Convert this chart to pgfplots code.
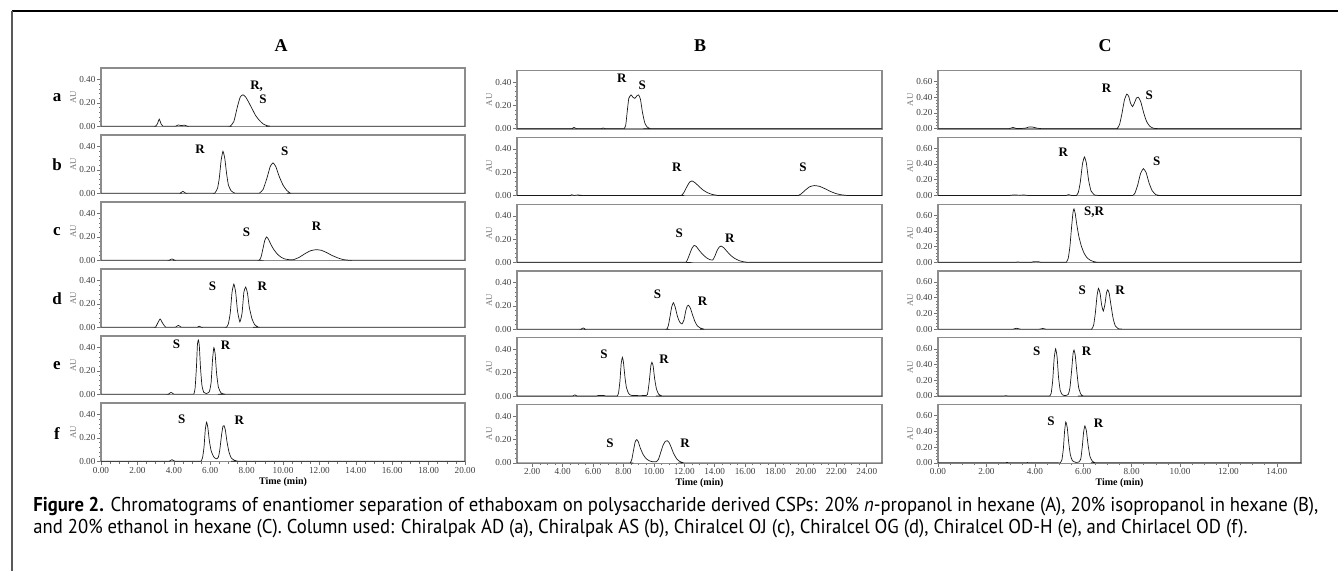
\documentclass[border=0pt]{standalone}
\usepackage{fontspec}
\setmainfont{Liberation Serif}
\newfontfamily\capfont{PT Sans}
\usepackage{graphicx}
\usepackage{pgfplots}
\pgfplotsset{compat=1.18}

\tikzset{pk/.style={font=\bfseries\fontsize{6.5}{7}\selectfont, inner sep=0pt}}
\pgfplotsset{
  panel/.style={
    scale only axis, height=29.25pt, anchor=north west,
    axis line style={black!45, line width=0.55pt},
    tick style={black!55, line width=0.3pt},
    tick align=outside, major tick length=1.8pt, minor tick length=1pt,
    xtick=\empty, ytick={0,0.2,0.4}, minor y tick num=4,
    xtick pos=bottom, ytick pos=left,
    ticklabel style={font=\fontsize{4.6}{5}\selectfont, text=black!75, inner sep=0.8pt},
    yticklabel style={/pgf/number format/.cd, fixed, fixed zerofill, precision=2},
    /pgf/number format/assume math mode=true,
    ylabel={AU}, ylabel style={font=\fontsize{4.4}{5}\selectfont, text=black!55, inner sep=0.5pt},
    no markers,
    every axis plot post/.append style={black!90, line width=0.35pt, smooth, tension=0.3, mark=none},
  },
  colA/.style={panel, width=182pt, xmin=0, xmax=20, ymin=-0.003, ymax=0.5},
  colB/.style={panel, width=182.5pt, xmin=1, xmax=25, ymin=-0.003, ymax=0.5},
  colC/.style={panel, width=181.5pt, xmin=0, xmax=15, ymin=-0.005, ymax=0.74, ytick={0,0.2,0.4,0.6}},
  bottomrow/.style={minor x tick num=3,
    xticklabel style={/pgf/number format/.cd, fixed, fixed zerofill, precision=2},
    xlabel={Time (min)}, xlabel style={font=\bfseries\fontsize{5}{6}\selectfont, inner sep=1pt}},
}

\newcommand\lineone{\textbf{Figure 2.} Chromatograms of enantiomer separation of ethaboxam on polysaccharide derived CSPs: 20\% \textit{n}-propanol in hexane (A), 20\% isopropanol in hexane (B),}
\newcommand\linetwo{and 20\% ethanol in hexane (C). Column used: Chiralpak AD (a), Chiralpak AS (b), Chiralcel OJ (c), Chiralcel OG (d), Chiralcel OD-H (e), and Chirlacel OD (f).}
\newcommand\capsize{\fontsize{10}{11}\selectfont}
\newlength\capw

\begin{document}%
\settowidth\capw{\capfont\capsize\lineone}%
\pgfmathsetmacro\capsx{642.5pt/\capw}%
\begin{tikzpicture}
\path[use as bounding box] (0pt,0pt) rectangle (669pt,-285.5pt);
\begin{scope}[x=0.5pt,y=-0.5pt]
\draw[black, line width=1.3pt] (12,11) -- (1338,11);
\draw[black!65, line width=1pt] (12,11) -- (12,571);
\foreach \t/\x in {A/281,B/700,C/1105}
  \node[font=\bfseries\fontsize{9}{10}\selectfont] at (\x,46) {\t};
\foreach \r/\y in {a/98,b/165,c/232,d/299,e/366,f/434}
  \node[font=\bfseries\fontsize{8.5}{9}\selectfont] at (57,\y) {\r};
\node[anchor=west, inner sep=0] at (33,507) {\scalebox{\capsx}[1]{\capfont\capsize\lineone}};
\node[anchor=west, inner sep=0] at (33,529) {\scalebox{\capsx}[1]{\capfont\capsize\linetwo}};
\end{scope}

% ---------------- column A ----------------
\begin{axis}[colA, at={(50.5pt,-34pt)}]
\addplot coordinates {(0,0)(2.9,0)(3.0,0)(3.1,0.02)(3.2,0.06)(3.3,0.02)(3.4,0)(3.5,0)(4.0,0)(4.1,0)(4.25,0.01)(4.4,0.005)(4.6,0.008)(4.75,0)(4.85,0)(7.0,0)(7.1,0)(7.3,0.04)(7.5,0.17)(7.65,0.25)(7.8,0.27)(7.95,0.25)(8.1,0.21)(8.3,0.15)(8.5,0.09)(8.7,0.05)(8.9,0.02)(9.1,0.005)(9.3,0)(9.5,0)(20,0)};
\node[pk] at (axis cs:8.55,0.34) {R,};
\node[pk] at (axis cs:8.9,0.23) {S};
\end{axis}
\begin{axis}[colA, at={(50.5pt,-67.5pt)}]
\addplot coordinates {(0,0)(4.25,0)(4.35,0)(4.5,0.015)(4.65,0)(4.75,0)(6.15,0)(6.25,0)(6.4,0.04)(6.5,0.13)(6.6,0.28)(6.7,0.36)(6.8,0.3)(6.9,0.17)(7.0,0.07)(7.15,0.02)(7.35,0)(7.5,0)(8.6,0)(8.7,0)(8.9,0.03)(9.1,0.12)(9.3,0.23)(9.45,0.26)(9.6,0.23)(9.8,0.14)(10.0,0.07)(10.2,0.025)(10.4,0)(10.6,0)(20,0)};
\node[pk] at (axis cs:5.44,0.38) {R};
\node[pk] at (axis cs:10.1,0.36) {S};
\end{axis}
\begin{axis}[colA, at={(50.5pt,-101pt)}]
\addplot coordinates {(0,0)(3.65,0)(3.75,0)(3.9,0.01)(4.05,0)(4.15,0)(8.6,0)(8.7,0)(8.8,0.03)(8.9,0.1)(9.0,0.17)(9.1,0.2)(9.2,0.18)(9.35,0.13)(9.5,0.09)(9.7,0.05)(9.9,0.025)(10.1,0.01)(10.4,0.003)(10.6,0.005)(10.9,0.025)(11.2,0.055)(11.5,0.08)(11.8,0.09)(12.1,0.085)(12.4,0.065)(12.7,0.04)(13.0,0.02)(13.3,0.005)(13.6,0)(13.9,0)(20,0)};
\node[pk] at (axis cs:8.0,0.24) {S};
\node[pk] at (axis cs:11.85,0.29) {R};
\end{axis}
\begin{axis}[colA, at={(50.5pt,-134.5pt)}]
\addplot coordinates {(0,0)(2.9,0)(3.0,0)(3.1,0.03)(3.25,0.07)(3.4,0.03)(3.55,0)(3.65,0)(4.0,0)(4.1,0)(4.25,0.015)(4.4,0)(4.5,0)(5.2,0)(5.3,0)(5.4,0.008)(5.5,0)(5.6,0)(6.8,0)(6.9,0)(7.0,0.03)(7.1,0.12)(7.2,0.3)(7.3,0.37)(7.4,0.3)(7.5,0.14)(7.63,0.045)(7.75,0.12)(7.85,0.3)(7.95,0.345)(8.05,0.29)(8.15,0.17)(8.3,0.07)(8.45,0.02)(8.65,0)(8.8,0)(20,0)};
\node[pk] at (axis cs:6.13,0.355) {S};
\node[pk] at (axis cs:8.86,0.355) {R};
\end{axis}
\begin{axis}[colA, at={(50.5pt,-168pt)}]
\addplot coordinates {(0,0)(3.6,0)(3.7,0)(3.85,0.015)(4.0,0)(4.1,0)(5.0,0)(5.1,0)(5.17,0.05)(5.24,0.22)(5.3,0.43)(5.35,0.465)(5.4,0.42)(5.47,0.22)(5.55,0.07)(5.65,0.015)(5.78,0.005)(5.95,0.02)(6.05,0.1)(6.13,0.3)(6.2,0.4)(6.27,0.35)(6.35,0.18)(6.45,0.06)(6.6,0.01)(6.8,0)(6.95,0)(20,0)};
\node[pk] at (axis cs:4.15,0.43) {S};
\node[pk] at (axis cs:6.85,0.42) {R};
\end{axis}
\begin{axis}[colA, bottomrow, at={(50.5pt,-201.5pt)}, xtick={0,2,...,20}]
\addplot coordinates {(0,0)(3.65,0)(3.75,0)(3.9,0.012)(4.05,0)(4.15,0)(5.4,0)(5.5,0)(5.58,0.03)(5.66,0.12)(5.73,0.27)(5.8,0.335)(5.87,0.29)(5.95,0.18)(6.05,0.09)(6.2,0.035)(6.35,0.02)(6.45,0.035)(6.53,0.1)(6.62,0.22)(6.7,0.3)(6.76,0.305)(6.83,0.27)(6.92,0.17)(7.03,0.08)(7.15,0.03)(7.3,0.01)(7.5,0)(7.65,0)(20,0)};
\node[pk] at (axis cs:4.43,0.36) {S};
\node[pk] at (axis cs:7.6,0.35) {R};
\end{axis}

% ---------------- column B ----------------
\begin{axis}[colB, at={(258.5pt,-35.25pt)}]
\addplot coordinates {(1,0)(4.5,0)(4.6,0)(4.75,0.01)(4.9,0)(5.0,0)(6.45,0)(6.55,0)(6.66,0.005)(6.8,0)(6.9,0)(7.95,0)(8.05,0)(8.15,0.03)(8.25,0.15)(8.35,0.26)(8.5,0.29)(8.62,0.27)(8.75,0.26)(8.9,0.285)(9.0,0.29)(9.12,0.25)(9.25,0.14)(9.4,0.05)(9.55,0.015)(9.75,0)(9.9,0)(25,0)};
\node[pk] at (axis cs:7.89,0.43) {R};
\node[pk] at (axis cs:9.24,0.37) {S};
\end{axis}
\begin{axis}[colB, at={(258.5pt,-68.65pt)}]
\addplot coordinates {(1,0)(4.4,0)(4.5,0)(4.6,0.006)(4.75,0)(5.0,0.004)(5.3,0)(5.4,0)(11.7,0)(11.8,0)(11.95,0.02)(12.15,0.07)(12.35,0.115)(12.5,0.125)(12.7,0.11)(12.95,0.08)(13.2,0.05)(13.5,0.025)(13.8,0.01)(14.2,0)(14.4,0)(19.3,0)(19.5,0)(19.7,0.015)(19.95,0.045)(20.25,0.075)(20.55,0.085)(20.9,0.078)(21.25,0.058)(21.6,0.035)(21.95,0.017)(22.3,0.006)(22.7,0)(22.9,0)(25,0)};
\node[pk] at (axis cs:11.5,0.24) {R};
\node[pk] at (axis cs:19.8,0.24) {S};
\end{axis}
\begin{axis}[colB, at={(258.5pt,-102.1pt)}]
\addplot coordinates {(1,0)(12.0,0)(12.1,0)(12.2,0.02)(12.35,0.07)(12.5,0.12)(12.65,0.145)(12.8,0.135)(13.0,0.1)(13.2,0.07)(13.45,0.04)(13.7,0.022)(13.87,0.02)(14.0,0.05)(14.15,0.1)(14.3,0.132)(14.42,0.14)(14.6,0.125)(14.8,0.095)(15.05,0.06)(15.3,0.035)(15.6,0.015)(15.9,0.005)(16.2,0)(16.4,0)(25,0)};
\node[pk] at (axis cs:11.66,0.25) {S};
\node[pk] at (axis cs:15.0,0.21) {R};
\end{axis}
\begin{axis}[colB, at={(258.5pt,-135.5pt)}]
\addplot coordinates {(1,0)(5.1,0)(5.2,0)(5.36,0.01)(5.5,0)(5.6,0)(10.75,0)(10.85,0)(10.95,0.03)(11.05,0.1)(11.17,0.19)(11.28,0.228)(11.4,0.19)(11.55,0.11)(11.7,0.06)(11.85,0.045)(11.98,0.08)(12.1,0.16)(12.2,0.2)(12.28,0.205)(12.4,0.18)(12.55,0.12)(12.7,0.065)(12.85,0.03)(13.05,0.01)(13.3,0)(13.5,0)(25,0)};
\node[pk] at (axis cs:10.23,0.30) {S};
\node[pk] at (axis cs:13.2,0.24) {R};
\end{axis}
\begin{axis}[colB, at={(258.5pt,-168.95pt)}]
\addplot coordinates {(1,0)(4.55,0)(4.65,0)(4.8,0.01)(4.95,0)(5.05,0)(6.1,0)(6.2,0)(6.35,0.005)(6.7,0.005)(6.85,0)(6.95,0)(7.5,0)(7.6,0)(7.68,0.03)(7.77,0.13)(7.85,0.28)(7.93,0.333)(8.0,0.29)(8.1,0.16)(8.2,0.07)(8.35,0.02)(8.55,0.005)(9.5,0.005)(9.6,0.03)(9.7,0.13)(9.8,0.26)(9.87,0.29)(9.95,0.26)(10.05,0.15)(10.17,0.06)(10.32,0.015)(10.55,0)(10.7,0)(25,0)};
\node[pk] at (axis cs:6.72,0.36) {S};
\node[pk] at (axis cs:10.67,0.32) {R};
\end{axis}
\begin{axis}[colB, bottomrow, at={(258.5pt,-202.35pt)}, xtick={2,4,...,24}]
\addplot coordinates {(1,0)(8.35,0)(8.45,0)(8.55,0.03)(8.65,0.1)(8.77,0.18)(8.87,0.2)(8.98,0.18)(9.1,0.13)(9.3,0.07)(9.5,0.035)(9.7,0.018)(9.9,0.01)(10.15,0.01)(10.3,0.03)(10.45,0.09)(10.6,0.15)(10.75,0.185)(10.88,0.19)(11.0,0.175)(11.15,0.13)(11.3,0.08)(11.5,0.035)(11.7,0.012)(11.95,0)(12.1,0)(25,0)};
\node[pk] at (axis cs:7.12,0.17) {S};
\node[pk] at (axis cs:12.05,0.17) {R};
\end{axis}

% ---------------- column C ----------------
\begin{axis}[colC, at={(469pt,-35.25pt)}]
\addplot coordinates {(0,0)(2.85,0)(2.95,0)(3.1,0.015)(3.25,0)(3.6,0.005)(3.75,0.02)(3.9,0.02)(4.1,0.005)(4.25,0)(4.35,0)(7.3,0)(7.4,0)(7.5,0.05)(7.6,0.19)(7.7,0.36)(7.8,0.44)(7.88,0.41)(7.96,0.32)(8.04,0.28)(8.12,0.33)(8.2,0.39)(8.28,0.40)(8.38,0.34)(8.5,0.2)(8.62,0.09)(8.75,0.03)(8.9,0.005)(9.05,0)(9.2,0)(15,0)};
\node[pk] at (axis cs:6.97,0.515) {R};
\node[pk] at (axis cs:8.73,0.42) {S};
\end{axis}
\begin{axis}[colC, at={(469pt,-68.65pt)}]
\addplot coordinates {(0,0)(2.85,0)(2.95,0)(3.1,0.005)(3.4,0.003)(3.55,0.005)(3.7,0)(3.8,0)(5.2,0)(5.3,0)(5.4,0.01)(5.5,0)(5.64,0)(5.72,0)(5.8,0.04)(5.88,0.17)(5.97,0.4)(6.05,0.49)(6.13,0.41)(6.22,0.2)(6.32,0.06)(6.45,0.01)(6.6,0)(7.95,0)(8.05,0)(8.14,0.03)(8.25,0.13)(8.37,0.28)(8.49,0.34)(8.6,0.29)(8.72,0.16)(8.85,0.06)(9.0,0.01)(9.15,0)(9.3,0)(15,0)};
\node[pk] at (axis cs:5.18,0.55) {R};
\node[pk] at (axis cs:9.04,0.44) {S};
\end{axis}
\begin{axis}[colC, at={(469pt,-102.1pt)}]
\addplot coordinates {(0,0)(3.1,0)(3.2,0)(3.3,0.005)(3.4,0)(3.5,0)(3.75,0)(3.85,0)(3.95,0.008)(4.15,0.008)(4.25,0)(4.35,0)(5.2,0)(5.3,0)(5.38,0.05)(5.45,0.2)(5.52,0.45)(5.58,0.64)(5.62,0.68)(5.67,0.62)(5.74,0.47)(5.82,0.33)(5.92,0.21)(6.03,0.12)(6.15,0.06)(6.3,0.025)(6.45,0.008)(6.6,0)(6.75,0)(15,0)};
\node[pk] at (axis cs:6.45,0.64) {S,R};
\end{axis}
\begin{axis}[colC, at={(469pt,-135.5pt)}]
\addplot coordinates {(0,0)(3.0,0)(3.1,0)(3.25,0.01)(3.4,0)(3.5,0)(4.1,0)(4.2,0)(4.33,0.008)(4.45,0)(4.55,0)(6.25,0)(6.35,0)(6.43,0.05)(6.5,0.2)(6.57,0.42)(6.63,0.52)(6.7,0.45)(6.76,0.31)(6.83,0.23)(6.9,0.32)(6.96,0.46)(7.01,0.5)(7.07,0.46)(7.15,0.3)(7.24,0.13)(7.33,0.04)(7.45,0.005)(7.6,0)(7.75,0)(15,0)};
\node[pk] at (axis cs:5.96,0.5) {S};
\node[pk] at (axis cs:7.52,0.5) {R};
\end{axis}
\begin{axis}[colC, at={(469pt,-168.95pt)}]
\addplot coordinates {(0,0)(2.6,0)(2.7,0)(2.8,0.004)(2.9,0)(3.0,0)(4.52,0)(4.62,0)(4.68,0.04)(4.74,0.2)(4.8,0.48)(4.86,0.6)(4.92,0.5)(4.98,0.24)(5.05,0.07)(5.14,0.015)(5.26,0.005)(5.38,0.02)(5.45,0.1)(5.52,0.32)(5.58,0.54)(5.62,0.585)(5.67,0.52)(5.74,0.3)(5.81,0.11)(5.9,0.025)(6.0,0)(6.15,0)(15,0)};
\node[pk] at (axis cs:4.08,0.57) {S};
\node[pk] at (axis cs:6.14,0.57) {R};
\end{axis}
\begin{axis}[colC, bottomrow, at={(469pt,-202.35pt)}, xtick={0,2,...,14}]
\addplot coordinates {(0,0)(2.65,0)(2.75,0)(2.85,0.004)(2.95,0)(3.05,0)(3.5,0)(3.6,0)(3.7,0.003)(3.8,0)(3.9,0)(4.95,0)(5.05,0)(5.12,0.04)(5.18,0.18)(5.23,0.4)(5.28,0.52)(5.34,0.45)(5.4,0.26)(5.47,0.1)(5.56,0.025)(5.7,0.005)(5.82,0.01)(5.9,0.05)(5.96,0.2)(6.02,0.4)(6.07,0.47)(6.13,0.41)(6.2,0.23)(6.28,0.08)(6.38,0.02)(6.5,0)(6.65,0)(15,0)};
\node[pk] at (axis cs:4.67,0.53) {S};
\node[pk] at (axis cs:6.63,0.5) {R};
\end{axis}
\end{tikzpicture}%
\end{document}
